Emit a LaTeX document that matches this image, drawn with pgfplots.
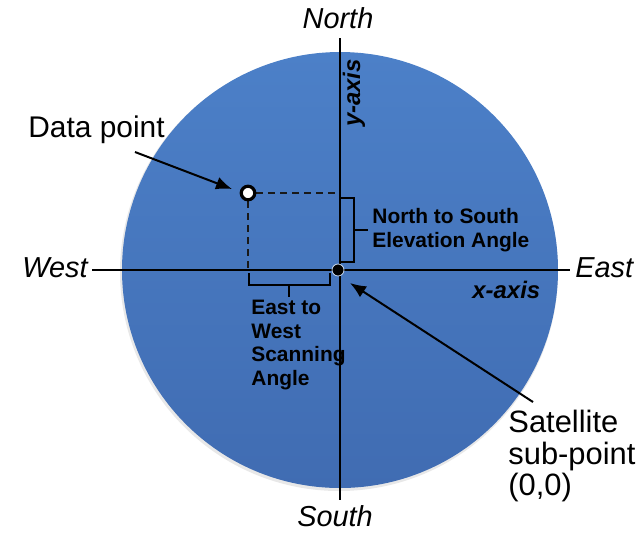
\documentclass[border=0pt]{standalone}
\usepackage{pgfplots}
\pgfplotsset{compat=1.18}
\usetikzlibrary{arrows.meta}
\usepackage{fontspec}
\setmainfont{Liberation Sans}
\definecolor{disctop}{RGB}{76,128,200}
\definecolor{discbot}{RGB}{64,108,178}

\begin{document}
\begin{tikzpicture}
\begin{axis}[
    scale only axis,
    width=319.5bp, height=266bp,
    xmin=0, xmax=639, ymin=0, ymax=532,
    y dir=reverse,
    hide axis,
    clip=false,
]
% fix the picture's frame to the full axis box
\path (axis cs:0,0) -- (axis cs:639,532);

% the disc, seen from the satellite
\fill[gray, opacity=0.18] (axis cs:339,272) circle [radius=219];
\shade[top color=disctop, bottom color=discbot] (axis cs:340,270) circle [radius=218];

% x- and y-axis
\addplot[black, line width=1bp] coordinates {(92,270) (570,270)};
\addplot[black, line width=1bp] coordinates {(340,38) (340,500)};

% projections of the data point
\addplot[black!90, line width=1bp, dash pattern=on 3.5bp off 2.5bp] coordinates {(256,193) (336,193)};
\addplot[black!90, line width=1bp, dash pattern=on 3.5bp off 2.5bp] coordinates {(248,201) (248,268)};

% brackets
\draw[black, line width=0.9bp] (axis cs:340,198) -- (axis cs:354,198) -- (axis cs:354,262) -- (axis cs:340,262);
\draw[black, line width=0.9bp] (axis cs:354,230) -- (axis cs:368,230);
\draw[black, line width=0.9bp] (axis cs:249,273) -- (axis cs:249,285) -- (axis cs:330,285) -- (axis cs:330,273);
\draw[black, line width=0.9bp] (axis cs:289,285) -- (axis cs:289,297);

% points
\addplot[only marks, mark=*, mark size=3.4pt, mark options={draw=black, fill=white, line width=1.6pt}] coordinates {(248,193)};
\addplot[only marks, mark=*, mark size=3pt, mark options={draw=white!70!disctop, fill=black, line width=0.4pt}] coordinates {(338,270)};

% arrows
\draw[-{Latex[length=8bp,width=6.5bp]}, black, line width=1bp] (axis cs:135,152) -- (axis cs:232,189);
\draw[-{Latex[length=8bp,width=6.5bp]}, black, line width=1bp] (axis cs:533,402) -- (axis cs:350,283);

% labels
\node[font=\fontsize{14.5}{16}\selectfont\itshape] at (axis cs:338,18) {North};
\node[font=\fontsize{14.5}{16}\selectfont\itshape] at (axis cs:335,516) {South};
\node[font=\fontsize{14.5}{16}\selectfont\itshape, anchor=east, inner sep=0pt] at (axis cs:88,268) {West};
\node[font=\fontsize{14.5}{16}\selectfont\itshape, anchor=west, inner sep=0pt] at (axis cs:575,268) {East};

\node[font=\fontsize{12}{14}\selectfont\bfseries\itshape, anchor=west, inner sep=0pt] at (axis cs:472,290) {x-axis};
\node[font=\fontsize{12}{14}\selectfont\bfseries\itshape, rotate=90, inner sep=0pt] at (axis cs:354,93) {y-axis};

\node[font=\fontsize{15}{16}\selectfont, anchor=west, inner sep=0pt] at (axis cs:28,130) {Data point};

\node[font=\fontsize{10.5}{12}\selectfont\bfseries, anchor=west, align=left, inner sep=0pt] at (axis cs:372,230) {North to South\\Elevation Angle};
\node[font=\fontsize{10.5}{11.75}\selectfont\bfseries, anchor=north west, align=left, inner sep=0pt] at (axis cs:251,300) {East to\\West\\Scanning\\Angle};

\node[font=\fontsize{15.5}{15.75}\selectfont, anchor=north west, align=left, inner sep=0pt] at (axis cs:508,410) {Satellite\\sub-point\\(0,0)};
\end{axis}
\end{tikzpicture}
\end{document}
